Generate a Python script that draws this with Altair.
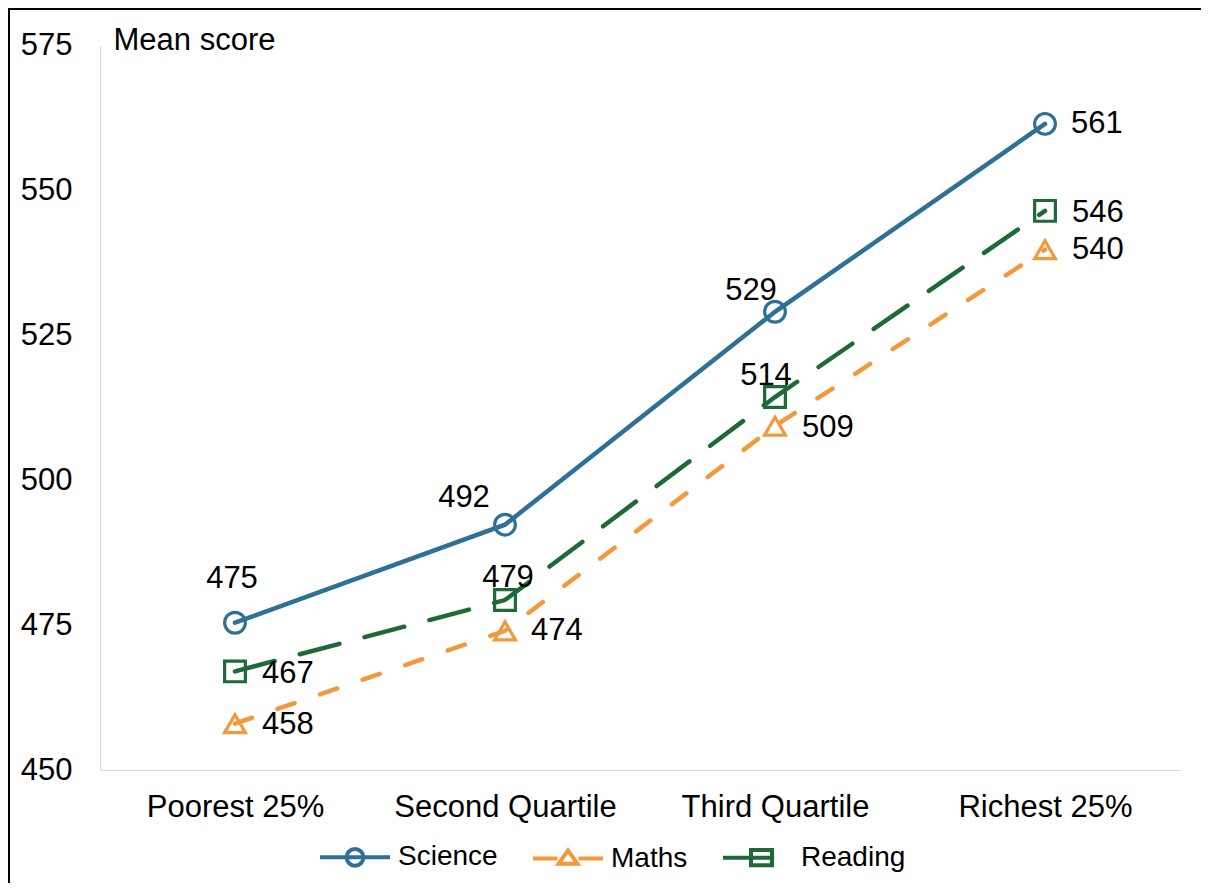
import altair as alt
import pandas as pd

# ---------------- data ----------------
categories = ["Poorest 25%", "Second Quartile", "Third Quartile", "Richest 25%"]
series_names = ["Science", "Maths", "Reading"]
science = [475.4, 492.3, 529.0, 561.4]
maths = [458.0, 474.0, 509.3, 539.7]
reading = [467.0, 479.3, 514.3, 546.4]
y_ticks = [450, 475, 500, 525, 550, 575]
y_title = "Mean score"

rows = []
for s, vals in zip(series_names, [science, maths, reading]):
    for c, v in zip(categories, vals):
        rows.append({"series": s, "category": c, "score": v, "label": f"{round(v)}"})
df = pd.DataFrame(rows)

# ---------------- styling ----------------
FONT = "Liberation Sans"
colors = {"Science": "#2f7096", "Maths": "#f2993e", "Reading": "#1e6a36"}
shapes = {"Science": "circle", "Maths": "triangle-up", "Reading": "square"}
dashes = {"Science": None, "Maths": [18, 27], "Reading": [41, 26]}
legend_paths = [
    "M-1,0L1,0M0.24,0A0.24,0.24,0,1,1,-0.24,0A0.24,0.24,0,1,1,0.24,0",
    "M-1,0L-0.3,0M0.3,0L1,0M0,-0.23L0.27,0.15L-0.27,0.15Z",
    "M-1,0L0.46,0M-0.2,-0.22L0.4,-0.22L0.4,0.22L-0.2,0.22Z",
]
# label nudges: (dx, dy, align)
label_place = {
    ("Science", "Poorest 25%"): (-3, -44, "center"),
    ("Science", "Second Quartile"): (-41, -27, "center"),
    ("Science", "Third Quartile"): (-24, -21, "center"),
    ("Science", "Richest 25%"): (26, 0, "left"),
    ("Maths", "Poorest 25%"): (27, 1, "left"),
    ("Maths", "Second Quartile"): (26, 0, "left"),
    ("Maths", "Third Quartile"): (27, 2, "left"),
    ("Maths", "Richest 25%"): (27, 0, "left"),
    ("Reading", "Poorest 25%"): (27, 3, "left"),
    ("Reading", "Second Quartile"): (3, -22, "center"),
    ("Reading", "Third Quartile"): (-9, -21, "center"),
    ("Reading", "Richest 25%"): (27, 2, "left"),
}

x_enc = alt.X(
    "category:N",
    sort=categories,
    scale=alt.Scale(type="point", padding=0.5),
    axis=alt.Axis(
        title=None, labelAngle=0, ticks=False, grid=False,
        domainColor="#d9d9d9", domainWidth=1.2, labelLimit=0,
        labelFontSize=31, labelFont=FONT, labelColor="#000000", labelPadding=22,
    ),
)
y_enc = alt.Y(
    "score:Q",
    scale=alt.Scale(domain=[450, 575], nice=False, zero=False),
    axis=alt.Axis(
        values=y_ticks, ticks=False, grid=False,
        domainColor="#d9d9d9", domainWidth=1.2,
        labelFontSize=31, labelFont=FONT, labelColor="#000000", labelPadding=28,
        title=y_title, titleAngle=0, titleX=13, titleY=-5, titleAlign="left",
        titleBaseline="middle", titleFontSize=31, titleFont=FONT,
        titleFontWeight="normal", titleColor="#000000",
    ),
)

base = alt.Chart(df)
layers = []

for s in series_names:
    line_kwargs = dict(color=colors[s], strokeWidth=4.5, strokeCap="round")
    if dashes[s]:
        line_kwargs["strokeDash"] = dashes[s]
    layers.append(
        base.mark_line(**line_kwargs)
        .encode(x=x_enc, y=y_enc)
        .transform_filter(alt.datum.series == s)
    )
for s in series_names:
    layers.append(
        base.mark_point(shape=shapes[s], filled=False, size=430, strokeWidth=3.2,
                        color=colors[s], opacity=1)
        .encode(x=x_enc, y=y_enc)
        .transform_filter(alt.datum.series == s)
    )

for (s, c), (dx, dy, align) in label_place.items():
    layers.append(
        base.mark_text(font=FONT, fontSize=31, color="#000000", align=align,
                       baseline="middle", dx=dx, dy=dy)
        .encode(x=x_enc, y=y_enc, text="label:N")
        .transform_filter((alt.datum.series == s) & (alt.datum.category == c))
    )

legend_def = alt.Legend(
    title=None, orient="none", legendX=218, legendY=775,
    direction="horizontal", labelFontSize=28, labelFont=FONT,
    labelColor="#000000", symbolSize=4900, symbolStrokeWidth=4,
    symbolOpacity=1, labelOffset=6, columnPadding=27, padding=0,
)
# legend carrier layer (invisible marks, visible legend)
legend_layer = base.mark_point(filled=False, size=400, opacity=0).encode(
    x=x_enc,
    y=y_enc,
    color=alt.Color(
        "series:N",
        sort=series_names,
        scale=alt.Scale(domain=series_names, range=[colors[s] for s in series_names]),
        legend=legend_def,
    ),
    shape=alt.Shape(
        "series:N",
        sort=series_names,
        scale=alt.Scale(domain=series_names, range=legend_paths),
        legend=legend_def,
    ),
)
layers.append(legend_layer)

frame = alt.Chart(alt.Data(values=[{}]))
layers.append(
    frame.mark_rule(color="#000000", strokeWidth=3).encode(
        x=alt.value(-91.5), y=alt.value(-38), y2=alt.value(860)
    )
)
layers.append(
    frame.mark_rule(color="#000000", strokeWidth=3).encode(
        x=alt.value(-93), x2=alt.value(1120), y=alt.value(-36.5)
    )
)

chart = (
    alt.layer(*layers)
    .properties(
        width=1080, height=725,
        padding={"left": 92, "top": 37, "right": 21, "bottom": 113},
        autosize=alt.AutoSizeParams(type="none"),
    )
    .configure(font=FONT, background="#ffffff")
    .configure_view(stroke="transparent", strokeWidth=0)
)

chart.save("out.html", embed_options={"renderer": "svg", "actions": False})
